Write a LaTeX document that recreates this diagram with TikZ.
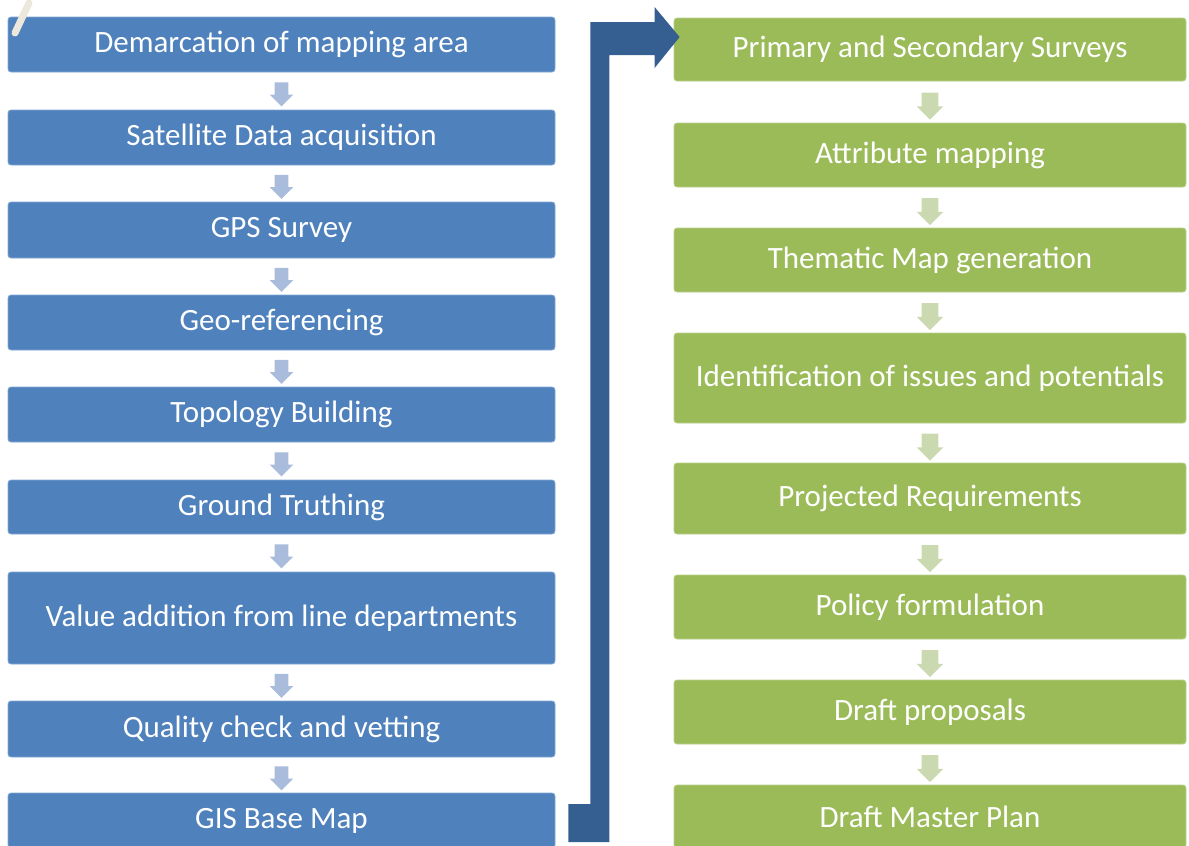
\documentclass[tikz,border=0pt]{standalone}
\usepackage{fontspec}
\setmainfont{Carlito}
\usetikzlibrary{calc,shapes.arrows}
\definecolor{StepBlue}{HTML}{4F81BD}
\definecolor{StepGreen}{HTML}{9BBB59}
\definecolor{LinkBlue}{HTML}{365F91}
\definecolor{PaleBlue}{HTML}{A9BCDC}
\definecolor{PaleGreen}{HTML}{CBD9B1}
\definecolor{Smudge}{HTML}{ECE8DB}
\tikzset{
  stepbox/.style={rectangle, rounded corners=1.5pt, inner sep=0pt, text=white,
    font=\fontsize{15.5}{18}\selectfont, align=center},
  leftbox/.style={stepbox, fill=StepBlue, draw=StepBlue!70!white, line width=0.4pt, minimum width=273.5pt},
  rightbox/.style={stepbox, fill=StepGreen, draw=StepGreen!70!white, line width=0.4pt, minimum width=256pt},
  downblue/.style={single arrow, shape border rotate=270, fill=PaleBlue, inner sep=0pt,
    inner xsep=3.25pt, minimum height=12pt, single arrow head extend=2.5pt},
  downgreen/.style={single arrow, shape border rotate=270, fill=PaleGreen, inner sep=0pt,
    inner xsep=4pt, minimum height=13.5pt, single arrow head extend=2.5pt},
  bigarrow/.style={fill=LinkBlue}
}
\begin{document}
\begin{tikzpicture}[x=0.5pt, y=-0.5pt]
\useasboundingbox (0,0) rectangle (1189,846);
% left column
\node[leftbox, minimum height=27.5pt] (dem) at (281.5,44.5) {Demarcation of mapping area};
\node[leftbox, minimum height=27.5pt] (sat) at (281.5,137.5) {Satellite Data acquisition};
\node[leftbox, minimum height=28pt] (gps) at (281.5,230) {GPS Survey};
\node[leftbox, minimum height=27.5pt] (geo) at (281.5,322.5) {Geo-referencing};
\node[leftbox, minimum height=27.5pt] (topo) at (281.5,414.5) {Topology Building};
\node[leftbox, minimum height=27pt] (truth) at (281.5,507) {Ground Truthing};
\node[leftbox, minimum height=46pt] (value) at (281.5,618) {Value addition from line departments};
\node[leftbox, minimum height=28pt] (check) at (281.5,729) {Quality check and vetting};
\node[leftbox, minimum height=27.5pt] (gis) at (281.5,820.5) {GIS Base Map};
% right column
\node[rightbox, minimum height=31.5pt] (prim) at (930,49.5) {Primary and Secondary Surveys};
\node[rightbox, minimum height=32pt] (attr) at (930,155) {Attribute mapping};
\node[rightbox, minimum height=32pt] (theme) at (930,260) {Thematic Map generation};
\node[rightbox, minimum height=45pt] (issue) at (930,378) {Identification of issues and potentials};
\node[rightbox, minimum height=35.5pt] (need) at (930,498.5) {Projected Requirements};
\node[rightbox, minimum height=32pt] (policy) at (930,607) {Policy formulation};
\node[rightbox, minimum height=32pt] (draft) at (930,712) {Draft proposals};
\node[rightbox, minimum height=31.5pt] (plan) at (930,816.5) {Draft Master Plan};
% small arrows between steps
\foreach \a/\b in {dem/sat, sat/gps, gps/geo, geo/topo, topo/truth, truth/value, value/check, check/gis}
  \node[downblue] (\a-\b) at ($(\a.south)!0.5!(\b.north)$) {};
\foreach \a/\b in {prim/attr, attr/theme, theme/issue, issue/need, need/policy, policy/draft, draft/plan}
  \node[downgreen] (\a-\b) at ($(\a.south)!0.5!(\b.north)$) {};
% bent link from base map to surveys
\fill[bigarrow] ($(gis.east)+(13,-16.5)$) -- ++(22,0) |- ($(prim.west)+(-19,-27.5)$)
  -- ++(0,-15) -- ($(prim.west)+(6,-12.5)$) -- ($(prim.west)+(-19,18.5)$) -- ++(0,-13)
  -| ($(gis.east)+(54,21.5)$) -- ($(gis.east)+(13,21.5)$) -- cycle;
\draw[Smudge, line width=3.5pt, line cap=round] (29,3) -- (15,33);
\end{tikzpicture}
\end{document}
